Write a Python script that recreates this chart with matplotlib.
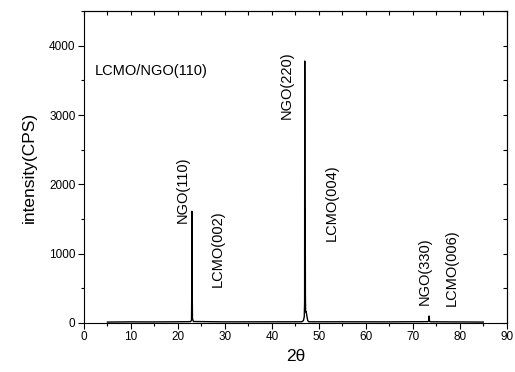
import matplotlib
matplotlib.use('Agg')
import matplotlib.pyplot as plt
from matplotlib.ticker import MultipleLocator

plt.rcParams['font.family'] = ['Liberation Sans', 'DejaVu Sans']

# XRD scan
two_theta = [5, 10, 15, 20, 22.7, 22.9, 22.97, 23.0, 23.04, 23.1, 23.3,
             30, 40, 46.3, 46.7, 46.9, 46.97, 47.0, 47.04, 47.1, 47.14, 47.18,
             47.3, 47.45, 47.65, 47.9, 55, 65, 73.2, 73.4, 73.47, 73.55, 73.7, 80, 85]
counts = [12, 15, 14, 16, 18, 40, 600, 1610, 500, 60, 20,
          15, 16, 16, 30, 90, 300, 3780, 900, 1650, 400, 160,
          165, 100, 30, 16, 16, 15, 18, 30, 100, 30, 16, 14, 12]

# peak labels: (text, x, y-bottom)
peak_labels = ['NGO(110)', 'LCMO(002)', 'NGO(220)', 'LCMO(004)', 'NGO(330)', 'LCMO(006)']
label_x = [21.1, 28.5, 43.2, 52.8, 72.6, 78.3]
label_y = [1440, 520, 2950, 1180, 260, 245]

fig = plt.figure(figsize=(5.15, 3.72), dpi=100)
ax = fig.add_axes([0.163, 0.132, 0.821, 0.838])

ax.plot(two_theta, counts, color='black', lw=1.0)

ax.set_xlim(0, 90)
ax.set_ylim(0, 4500)
ax.xaxis.set_major_locator(MultipleLocator(10))
ax.xaxis.set_minor_locator(MultipleLocator(5))
ax.yaxis.set_major_locator(MultipleLocator(1000))
ax.yaxis.set_minor_locator(MultipleLocator(500))
ax.tick_params(which='both', direction='out', labelsize=8.5, width=0.8, pad=2)
ax.tick_params(which='major', length=4)
ax.tick_params(which='minor', length=2.5)

# top and right ticks point inward
top = ax.secondary_xaxis('top')
top.xaxis.set_major_locator(MultipleLocator(5))
top.tick_params(direction='in', length=3, labeltop=False, width=0.8)
right = ax.secondary_yaxis('right')
right.yaxis.set_major_locator(MultipleLocator(500))
right.tick_params(direction='in', length=3, labelright=False, width=0.8)

for sp in ax.spines.values():
    sp.set_linewidth(0.8)

ax.set_xlabel('2θ', fontsize=12.5, labelpad=4)
ax.set_ylabel('intensity(CPS)', fontsize=12.5, labelpad=9)

ax.text(2.3, 3640, 'LCMO/NGO(110)', fontsize=10.5, va='center', ha='left')
for lab, lx, ly in zip(peak_labels, label_x, label_y):
    ax.text(lx, ly, lab, rotation=90, fontsize=10.5, ha='center', va='bottom')

fig.savefig('out.png', dpi=100)
